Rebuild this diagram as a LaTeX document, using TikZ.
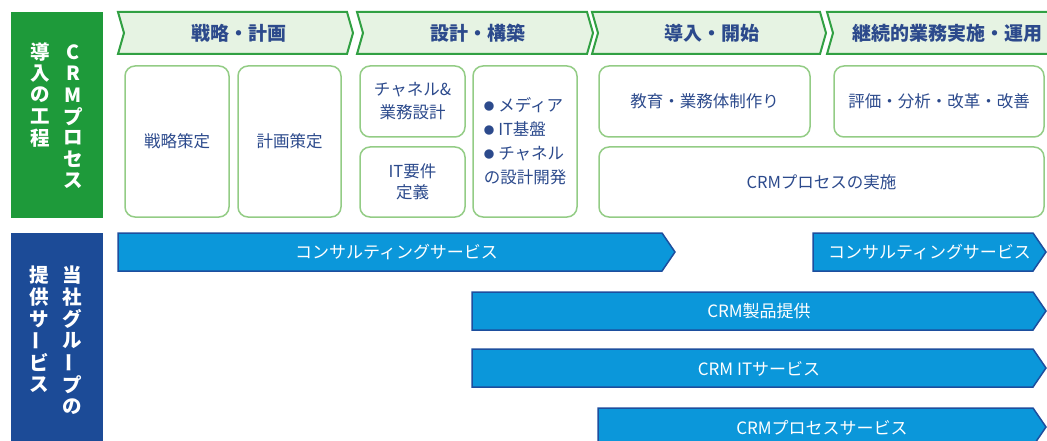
\documentclass[tikz,border=0pt]{standalone}
\usepackage{fontspec}
\setmainfont{Noto Sans CJK JP}
\usepackage{xcolor}
\usetikzlibrary{calc}
\definecolor{procgreen}{HTML}{1E9A3A}
\definecolor{phasefill}{HTML}{E6F3E3}
\definecolor{phaseline}{HTML}{31A043}
\definecolor{boxline}{HTML}{93CC85}
\definecolor{textblue}{HTML}{2C4A8C}
\definecolor{servicenavy}{HTML}{1C4B97}
\definecolor{barfill}{HTML}{0B97DA}
\definecolor{barline}{HTML}{1D4E9E}
\tikzset{
  every node/.style = {inner sep=0pt}
}
\tikzset{
  phase/.style = {fill=phasefill, draw=phaseline, line width=2pt},
  phase label/.style = {text=textblue, font=\fontsize{19}{21}\selectfont\bfseries}
}
\tikzset{
  task box/.style = {draw=boxline, line width=1.5pt, rounded corners=10pt,
    align=center, text=textblue, font=\fontsize{16.5}{23}\selectfont}
}
\tikzset{
  service bar/.style = {fill=barfill, draw=barline, line width=1.5pt},
  bar label/.style = {text=white, font=\fontsize{17}{19}\selectfont}
}
\tikzset{
  side label/.style = {text=white, font=\fontsize{19.5}{21}\selectfont\bfseries}
}
\newcommand{\vchoon}{\rotatebox[origin=c]{90}{ー}}
\newcommand{\dotmark}{{\fontsize{10.5}{10}\selectfont\raisebox{1.5pt}{●}}\hspace{4pt}}
\newcommand{\phasearrow}[4]{
  \draw[phase] (#1,12) -- ({#2-6},12) -- (#2,33) -- ({#2-6},54)
    -- (#1,54) -- ({#1+6},33) -- cycle;
  \node[phase label] (#3) at ({(#1+#2)/2+3},33) {#4};
}
\newcommand{\servicebar}[5]{
  \draw[service bar] (#1,#2) -- ({#3-13},#2) -- (#3,{#2+19})
    -- ({#3-13},{#2+38}) -- (#1,{#2+38}) -- cycle;
  \node[bar label] (#4) at ({(#1+#3)/2},{#2+19.5}) {#5};
}

\begin{document}
\begin{tikzpicture}[x=1pt, y=-1pt]
  \useasboundingbox (0,0) rectangle (1047,441);
  \clip (0,0) rectangle (1047,441);

  % left headings
  \fill[procgreen] (11,12) rectangle (103,218);
  \fill[servicenavy] (11,233) rectangle (103,460);
  \foreach \ch [count=\i] in {C,R,M,プ,ロ,セ,ス}
    \node[side label] (proc-a\i) at (73,{52+21.5*(\i-1)}) {\ch};
  \foreach \ch [count=\i] in {導,入,の,工,程}
    \node[side label] (proc-b\i) at (40,{52+21.5*(\i-1)}) {\ch};
  \foreach \ch [count=\i] in {当,社,グ,ル,\vchoon,プ,の}
    \node[side label] (serv-a\i) at (72,{275+22*(\i-1)}) {\ch};
  \foreach \ch [count=\i] in {提,供,サ,\vchoon,ビ,ス}
    \node[side label] (serv-b\i) at (39,{275+22*(\i-1)}) {\ch};

  % phases
  \phasearrow{118}{353}{plan}{戦略・計画}
  \phasearrow{357}{593}{design}{設計・構築}
  \phasearrow{592}{826}{launch}{導入・開始}
  \phasearrow{827}{1061}{operate}{継続的業務実施・運用}

  % tasks
  \node[task box, minimum width=104, minimum height=151] (strategy)
    at (177,141.5) {戦略策定};
  \node[task box, minimum width=103, minimum height=151] (planning)
    at (289.5,141.5) {計画策定};
  \node[task box, minimum width=105, minimum height=71] (channel)
    at (412.5,101.5) {チャネル\&\\業務設計};
  \node[task box, minimum width=105, minimum height=70,
    font=\fontsize{16.5}{21}\selectfont] (itreq)
    at (412.5,182) {IT要件\\定義};
  \node[task box, minimum width=104, minimum height=151, align=left,
    font=\fontsize{16.5}{24}\selectfont] (media)
    at (525,141.5) {\dotmark メディア\\\dotmark IT基盤\\\dotmark チャネル\\の設計開発};
  \node[task box, minimum width=211, minimum height=71] (training)
    at (704.5,101.5) {教育・業務体制作り};
  \node[task box, minimum width=210, minimum height=71] (review)
    at (939,101.5) {評価・分析・改革・改善};
  \node[task box, minimum width=445, minimum height=70] (running)
    at (821.5,182) {CRMプロセスの実施};

  % services
  \servicebar{118}{233}{675}{consult1}{コンサルティングサービス}
  \servicebar{813}{233}{1046}{consult2}{コンサルティングサービス}
  \servicebar{472}{292}{1046}{product}{CRM製品提供}
  \servicebar{472}{349}{1046}{itserv}{CRM ITサービス}
  \servicebar{598}{408}{1046}{procserv}{CRMプロセスサービス}
\end{tikzpicture}
\end{document}
